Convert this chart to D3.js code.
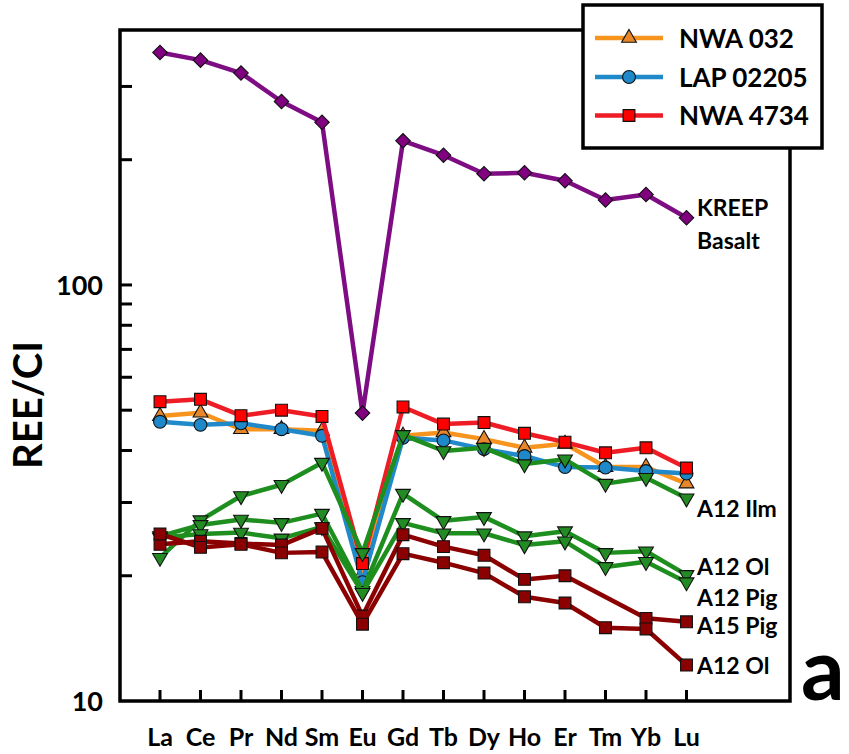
<!DOCTYPE html>
<html>
<head>
<meta charset="utf-8">
<script src="https://cdn.jsdelivr.net/npm/d3@7/dist/d3.min.js"></script>
<style>
  html, body { margin: 0; padding: 0; background: #fff; }
  svg { display: block; }
  text { font-family: Lato, "Open Sans", sans-serif; font-weight: bold; fill: #000; }
</style>
</head>
<body>
<svg id="chart" width="849" height="754"></svg>
<script>
// ---- data ----
const elements = ["La","Ce","Pr","Nd","Sm","Eu","Gd","Tb","Dy","Ho","Er","Tm","Yb","Lu"];
const kreepBasalt = [362,347,323,276,246,49.2,222,205,185,186,178,160,165,145];
const nwa032   = [48.4,49.3,45.0,45.0,44.6,20.3,43.4,44.2,42.6,40.6,41.5,36.5,36.5,33.3];
const lap02205 = [46.9,46.1,46.5,45.0,43.4,19.3,42.9,42.3,40.3,38.8,36.5,36.4,35.7,35.2];
const nwa4734  = [52.4,53.1,48.5,50.0,48.3,21.4,50.9,46.3,46.7,44.0,41.9,39.5,40.6,36.3];
const a12Ilm   = [22.1,27.2,31.1,33.1,37.4,22.7,43.6,39.9,40.6,37.1,38.1,33.3,34.4,30.7];
const a12OlG   = [24.9,26.5,27.3,26.8,28.2,18.4,31.5,27.1,27.7,24.9,25.6,22.7,22.9,20.1];
const a12Pig   = [24.7,25.2,25.4,24.6,26.2,18.2,26.8,25.3,25.3,23.7,24.2,21.0,21.6,19.3];
const a15Pig   = [23.8,24.2,23.9,23.7,26.0,16.0,25.1,23.5,22.4,19.6,20.0,null,15.8,15.5];
const a12OlR   = [25.2,23.4,23.8,22.7,22.8,15.3,22.6,21.5,20.3,17.8,17.2,15.0,14.9,12.2];
const yTickValues = [20,30,40,50,60,70,80,90,100,200,300];
const yTickLabels = [10,100];
const legendNames = ["NWA 032","LAP 02205","NWA 4734"];
const sideLabels = [
  {text:"KREEP", y:208}, {text:"Basalt", y:241},
  {text:"A12 Ilm", y:509}, {text:"A12 Ol", y:567}, {text:"A12 Pig", y:598},
  {text:"A15 Pig", y:626}, {text:"A12 Ol", y:666}
];

// ---- layout ----
const L = 120, R = 790, T = 30, B = 701;
const svg = d3.select("#chart");
const x = d3.scaleLinear().domain([0, elements.length - 1]).range([160, 686.5]);
const y = d3.scaleLog().domain([10, 410]).range([B, T]);

const C = {
  orange: "#F7941D", orangeF: "#E8872A",
  blue: "#2089CA", blueF: "#1E88C8",
  red: "#EE1C24", redF: "#FF0000",
  green: "#1E8E1E", greenF: "#238B23",
  dred: "#8B0000", dredF: "#8B0000",
  purple: "#7E0C82", purpleF: "#800080"
};

const series = [
  {vals: nwa032,   stroke: C.orange, fill: C.orangeF, sym: "tri"},
  {vals: lap02205, stroke: C.blue,   fill: C.blueF,   sym: "circ"},
  {vals: nwa4734,  stroke: C.red,    fill: C.redF,    sym: "sq"},
  {vals: a12Ilm,   stroke: C.green,  fill: C.greenF,  sym: "tridown"},
  {vals: a12OlG,   stroke: C.green,  fill: C.greenF,  sym: "tridown"},
  {vals: a12Pig,   stroke: C.green,  fill: C.greenF,  sym: "tridown"},
  {vals: a15Pig,   stroke: C.dred,   fill: C.dredF,   sym: "sq"},
  {vals: a12OlR,   stroke: C.dred,   fill: C.dredF,   sym: "sq"},
  {vals: kreepBasalt, stroke: C.purple, fill: C.purpleF, sym: "dia"}
];

function symPath(s) {
  if (s === "tri" || s === "tridown") return d3.symbol().type(d3.symbolTriangle).size(95)();
  if (s === "circ") return d3.symbol().type(d3.symbolCircle).size(130)();
  if (s === "sq") return d3.symbol().type(d3.symbolSquare).size(140)();
  if (s === "dia") return d3.symbol().type(d3.symbolSquare).size(105)();
}
function symRot(s) { return s === "tridown" ? 180 : (s === "dia" ? 45 : 0); }

// ---- axes frame & ticks ----
const axisG = svg.append("g");
axisG.selectAll("line.yt").data(yTickValues).enter().append("line")
  .attr("x1", L).attr("x2", L + 12)
  .attr("y1", d => y(d)).attr("y2", d => y(d))
  .attr("stroke", "#000").attr("stroke-width", 3);
axisG.selectAll("line.xt").data(elements).enter().append("line")
  .attr("x1", (d,i) => x(i)).attr("x2", (d,i) => x(i))
  .attr("y1", B).attr("y2", B - 11)
  .attr("stroke", "#000").attr("stroke-width", 3);
axisG.append("rect").attr("x", L).attr("y", T).attr("width", R - L).attr("height", B - T)
  .attr("fill", "none").attr("stroke", "#000").attr("stroke-width", 3.5);

axisG.selectAll("text.yl").data(yTickLabels).enter().append("text")
  .attr("x", 103).attr("y", d => y(d) + 10)
  .attr("text-anchor", "end").style("font-size", "27px")
  .text(d => d);
axisG.selectAll("text.xl").data(elements).enter().append("text")
  .attr("x", (d,i) => x(i)).attr("y", 746)
  .attr("text-anchor", "middle").style("font-size", "25px")
  .text(d => d);
svg.append("text")
  .attr("transform", "translate(42,405) rotate(-90)")
  .attr("text-anchor", "middle").style("font-size", "40px")
  .text("REE/CI");

// ---- series ----
const line = d3.line().x(d => x(d.i)).y(d => y(d.v));
series.forEach(s => {
  const pts = s.vals.map((v,i) => ({i, v})).filter(d => d.v != null);
  const g = svg.append("g");
  g.append("path").datum(pts).attr("d", line)
    .attr("fill", "none").attr("stroke", s.stroke).attr("stroke-width", 4.5)
    .attr("stroke-linejoin", "round");
  g.selectAll("path.m").data(pts).enter().append("path")
    .attr("d", symPath(s.sym))
    .attr("transform", d => `translate(${x(d.i)},${y(d.v)}) rotate(${symRot(s.sym)})`)
    .attr("fill", s.fill).attr("stroke", "#111").attr("stroke-width", 1.1);
});

svg.selectAll("text.side").data(sideLabels).enter().append("text")
  .attr("x", 697).attr("y", d => d.y + 8)
  .style("font-size", "23px")
  .text(d => d.text);

// panel letter
svg.append("text").attr("x", 801).attr("y", 700)
  .style("font-size", "86px").text("a");

// ---- legend ----
const lg = svg.append("g");
lg.append("rect").attr("x", 583).attr("y", 5).attr("width", 239).attr("height", 143)
  .attr("fill", "#fff").attr("stroke", "#000").attr("stroke-width", 3.5);
const legendRows = [38, 77, 115.5];
legendNames.forEach((name, k) => {
  const s = series[k];
  const yy = legendRows[k];
  lg.append("line").attr("x1", 595).attr("x2", 663).attr("y1", yy).attr("y2", yy)
    .attr("stroke", s.stroke).attr("stroke-width", 4.5);
  lg.append("path").attr("d", symPath(s.sym))
    .attr("transform", `translate(629,${yy}) rotate(${symRot(s.sym)})`)
    .attr("fill", s.fill).attr("stroke", "#111").attr("stroke-width", 1.1);
  lg.append("text").attr("x", 679).attr("y", yy + 9.5)
    .style("font-size", "26px").text(name);
});
</script>
</body>
</html>
